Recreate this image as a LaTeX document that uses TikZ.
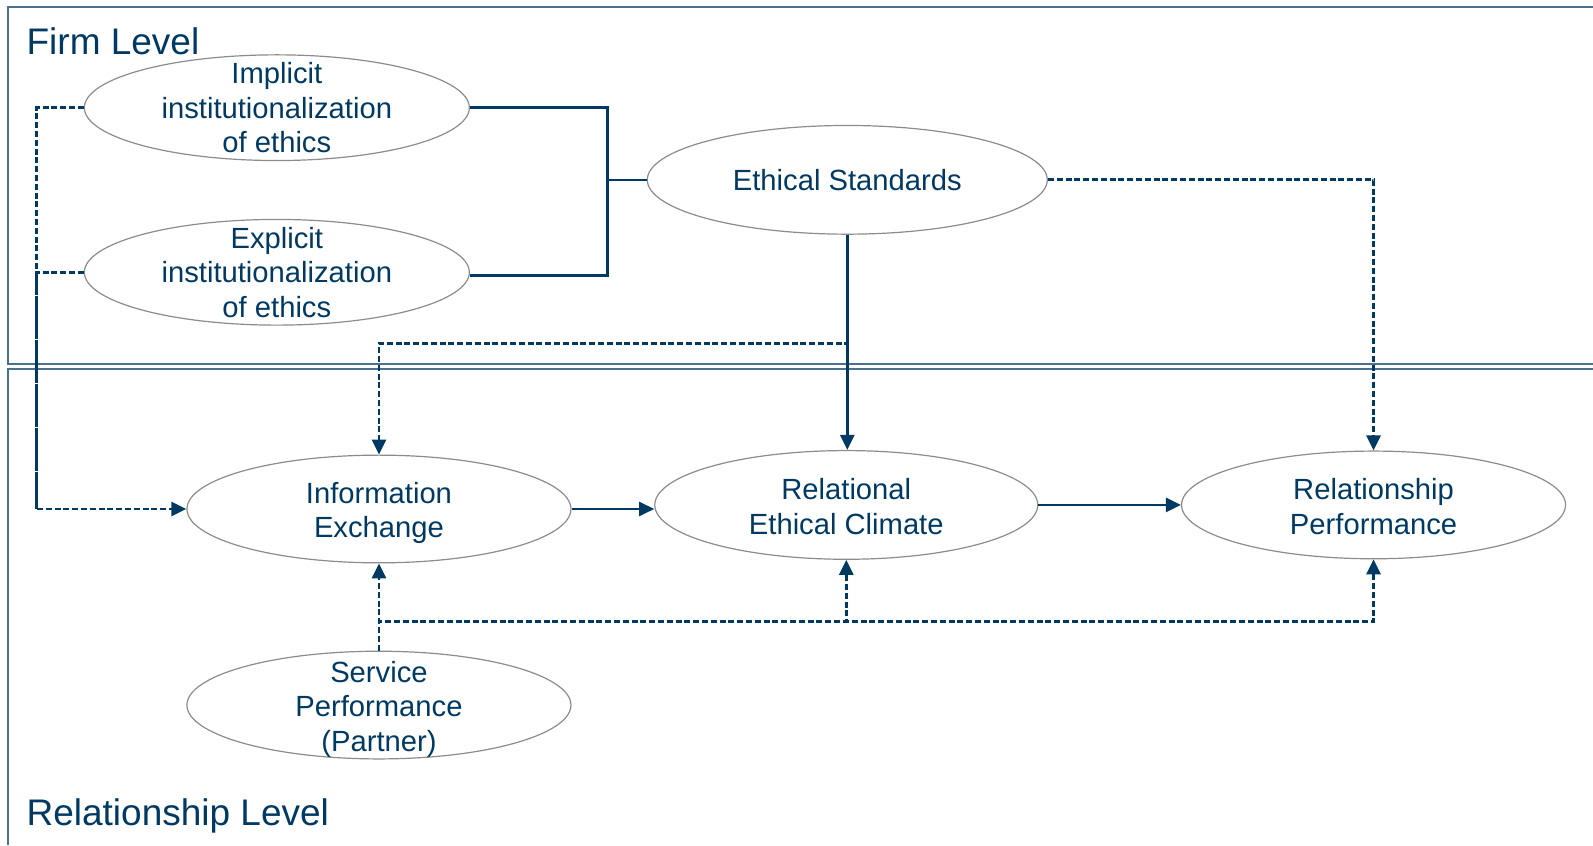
\documentclass[tikz,border=0pt]{standalone}
\usepackage{fontspec}
\setmainfont{Liberation Sans}
\usetikzlibrary{shapes.geometric,arrows.meta}
\definecolor{navy}{HTML}{003A63}
\definecolor{framec}{HTML}{4B7190}
\definecolor{ellc}{HTML}{8C8C8C}
\begin{document}
\begin{tikzpicture}[x=1.01594pt,y=-1.01594pt,
  ell/.style={ellipse, draw=ellc, line width=1.2pt, fill=white, inner sep=0pt},
  etext/.style={align=center, inner sep=0pt, text=navy, font=\fontsize{29.2}{34.5}\selectfont},
  sline/.style={draw=navy, line width=2.6pt},
  dline/.style={draw=navy, line width=2.8pt, dash pattern=on 6pt off 2.8pt},
  tip/.style={-{Triangle[length=15pt,width=14pt]}},
  lvl/.style={anchor=base west, text=navy, font=\fontsize{37}{44}\selectfont, inner sep=0pt}]
\useasboundingbox (0,0) rectangle (1568,832);
% frames
\draw[framec, line width=2pt] (1568,7) -- (8,7) -- (8,358.6) -- (1568,358.6);
\draw[framec, line width=2pt] (1568,362.9) -- (8,362.9) -- (8,832);
% labels
\node[lvl] (firm) at (26,54) {Firm Level};
\node[lvl] (rel) at (26,813) {Relationship Level};
% ellipses
\node[ell, minimum width=385pt, minimum height=105.7pt] (impl) at (272.5,106) {};
\node[ell, minimum width=385pt, minimum height=105.7pt] (expl) at (272.5,268) {};
\node[ell, minimum width=400pt, minimum height=108.7pt] (es) at (834,177) {};
\node[ell, minimum width=384pt, minimum height=107.7pt] (ie) at (373,501) {};
\node[ell, minimum width=383pt, minimum height=108.7pt] (rec) at (833,497) {};
\node[ell, minimum width=384pt, minimum height=107.7pt] (rp) at (1352,497) {};
\node[ell, minimum width=384pt, minimum height=107.7pt] (sp) at (373,694) {};
% texts
\node[etext] (impl-t) at (impl) {Implicit\\institutionalization\\of ethics};
\node[etext] (expl-t) at (expl) {Explicit\\institutionalization\\of ethics};
\node[etext] (es-t) at (es) {Ethical Standards};
\node[etext] (ie-t) at ([yshift=-4pt]ie) {Information\\Exchange};
\node[etext] (rec-t) at ([yshift=-1.5pt]rec) {Relational\\Ethical Climate};
\node[etext] (rp-t) at ([yshift=-1.5pt]rp) {Relationship\\Performance};
\node[etext] (sp-t) at ([yshift=-4pt]sp) {Service\\Performance\\(Partner)};
% helper coordinates
\coordinate (bt) at (598,106);
\coordinate (bb) at (598,271);
\coordinate (bm) at (598,177);
\coordinate (lx) at (36,0);
\coordinate (y338) at (0,338);
\coordinate (y612) at (0,612);
% bracket
\draw[sline] (impl.east) -- (bt) -- (bb) -- (expl.east |- bb);
\draw[sline] (bm) -- (es.west);
% ES -> RP dashed
\draw[dline, tip] (es.east) -| (rp.north);
% ES -> REC solid
\draw[sline, tip] (es.south) -- (es.south |- rec.north);
% ES -> IE dashed
\draw[dline, tip] (es.south) -- (es.south |- y338) -| (ie.north);
% left dashed
\draw[dline, tip] (impl.west) -| (lx |- ie.west) -- (ie.west);
\draw[dline] (expl.west) -| (lx |- ie.west);
% horizontal
\draw[sline, tip] (ie.east) -- (ie.east -| rec.west);
\draw[sline, tip] (rec.east) -- (rp.west);
% service performance
\draw[dline, tip] (sp.north) -- (ie.south);
\draw[dline, tip] (sp.north) -- (sp.north |- y612) -| (rec.south);
\draw[dline, tip] (sp.north) -- (sp.north |- y612) -| (rp.south);
\end{tikzpicture}
\end{document}
